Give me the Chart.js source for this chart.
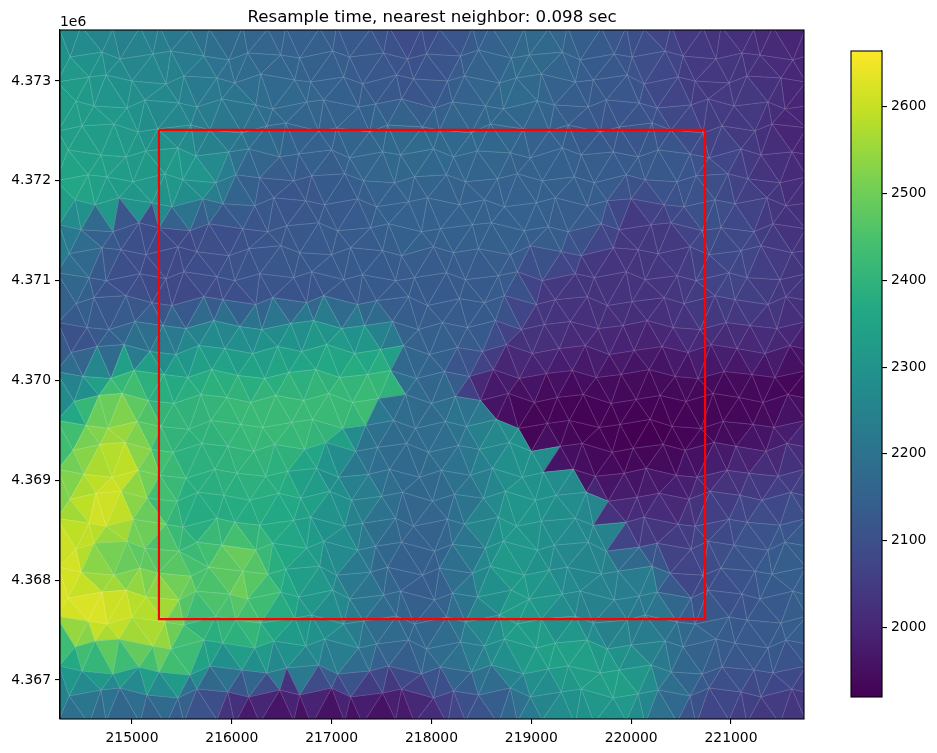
<!DOCTYPE html>
<html>
<head>
<meta charset="utf-8">
<title>Resample time</title>
<script src="https://cdn.jsdelivr.net/npm/chart.js@4"></script>
<style>
    body { margin: 0; background: #fff; }
    #meshChart { position: absolute; left: 0; top: 0; }
    #barChart { position: absolute; left: 840px; top: 0; }
</style>
</head>
<body>
<canvas id="meshChart" width="937" height="753"></canvas>
<canvas id="barChart" width="97" height="753"></canvas>
<script>
var titleText = "Resample time, nearest neighbor: 0.098 sec";
var offsetText = "1e6";
var xLimits = [214279, 221731];
var yLimits = [4366609, 4373511];
var xTicks = [215000, 216000, 217000, 218000, 219000, 220000, 221000];
var yTicks = [4367000, 4368000, 4369000, 4370000, 4371000, 4372000, 4373000];
var heightLimits = [1920, 2664];
var heightTicks = [2000, 2100, 2200, 2300, 2400, 2500, 2600];
var boxEast = [215270, 220740, 220740, 215270, 215270];
var boxNorth = [4372510, 4372510, 4367610, 4367610, 4372510];
var viridis = ["#440154", "#482475", "#414487", "#355f8d", "#2a788e", "#21918c", "#22a884", "#44bf70", "#7ad151", "#bddf26", "#fde725"];

// mesh nodes, row by row from the north edge, in tens of metres from 214000 / 4366000
var nodeEast = [
    [27,49,81,108,127,158,177,211,236,254,288,305,339,357,390,408,441,459,493,517,536,570,595,613,640,672,690,723,742,775],
    [38,70,88,121,139,172,197,216,249,268,301,318,352,376,395,429,447,480,498,531,549,583,601,634,652,685,711,729,762,788],
    [25,57,74,100,134,152,185,203,229,263,279,312,331,365,382,416,433,468,485,510,544,562,596,613,647,664,698,716,750,775],
    [44,62,95,113,147,165,190,224,241,275,292,327,344,370,403,421,454,472,506,523,557,575,608,626,660,677,703,737,754,789],
    [26,50,82,106,126,159,178,210,235,254,287,305,338,356,391,408,440,459,492,518,537,569,588,621,640,672,691,724,741,776],
    [36,69,94,114,146,164,197,217,248,267,300,318,351,369,402,422,446,479,499,531,550,582,607,627,659,678,710,730,761,784],
    [24,56,75,101,133,151,184,204,228,262,280,313,332,363,383,415,434,466,486,511,543,563,595,614,646,665,697,717,749,776],
    [43,63,87,120,140,171,191,223,242,274,293,326,345,377,396,428,453,473,505,524,556,576,600,633,653,684,704,736,755,787],
    [27,49,81,107,127,158,177,211,236,255,287,306,339,357,390,409,441,460,493,517,537,570,588,620,640,671,690,723,742,775],
    [37,70,89,114,146,165,197,217,249,268,300,319,351,370,402,422,447,479,499,530,550,582,607,627,659,678,710,730,761,785],
    [25,57,74,108,134,152,185,203,228,262,280,312,331,364,383,415,434,467,486,511,544,563,595,614,646,665,698,716,749,776],
    [44,62,94,120,140,172,191,224,241,275,292,326,345,377,396,428,453,473,505,524,556,576,601,633,653,684,704,737,755,788],
    [26,55,77,103,131,154,182,208,230,259,282,310,333,361,387,411,436,464,490,513,539,567,592,616,642,669,695,719,746,775],
    [39,65,92,118,144,167,193,221,246,270,295,323,349,372,398,426,451,475,501,528,554,578,603,631,657,680,706,734,759,786],
    [24,51,79,102,132,156,180,206,233,257,284,308,336,359,385,413,438,462,488,515,541,565,590,618,644,667,693,721,744,776],
    [42,67,90,116,142,169,195,219,244,272,297,321,347,374,400,424,449,477,503,526,552,580,605,629,655,682,708,732,757,787],
    [25,54,76,105,129,157,179,209,231,260,281,311,334,362,384,414,435,465,487,516,538,568,589,619,641,670,692,722,743,775],
    [41,68,93,119,141,170,196,222,243,273,294,324,346,375,397,427,448,478,500,529,551,581,602,632,654,683,705,735,756,788],
    [26,52,80,106,128,154,183,205,234,256,285,307,337,358,388,410,439,461,491,512,542,564,593,615,645,666,696,718,747,774],
    [38,64,89,115,145,166,192,218,247,269,298,320,350,371,401,423,452,474,504,525,555,577,606,628,658,679,709,731,760,785],
    [25,57,74,101,134,151,185,203,228,262,279,313,331,364,382,416,433,467,485,510,544,562,595,613,647,664,698,716,749,776],
    [44,62,95,113,147,165,190,224,241,275,292,326,344,370,403,421,454,472,506,523,557,575,608,626,660,677,703,737,754,789],
    [27,49,82,108,126,159,177,211,236,254,288,305,339,356,391,408,441,459,493,518,536,570,587,621,639,672,690,724,741,775],
    [36,70,94,114,147,164,198,216,249,267,301,318,352,369,403,421,446,480,498,531,549,583,608,626,660,677,711,729,762,784],
    [24,56,75,100,133,152,184,204,229,263,280,312,332,365,383,415,434,468,486,510,544,562,596,614,646,664,698,716,750,776],
    [43,63,87,121,139,172,191,223,242,274,293,327,345,377,395,429,453,473,505,524,556,576,600,634,652,685,704,737,755,787],
    [27,50,81,107,127,158,178,210,235,255,287,306,338,357,390,409,440,460,492,517,537,569,588,620,640,671,691,723,742,775],
    [37,69,88,115,146,165,196,217,248,268,300,319,351,370,402,422,447,479,499,530,550,582,607,627,659,678,710,730,761,785],
    [26,57,74,108,134,152,185,203,228,262,280,313,331,364,383,416,434,467,486,511,544,563,595,614,646,665,698,716,749,775]
];
var nodeNorth = [
    [753,755,752,754,756,752,753,755,752,754,753,756,752,755,753,752,754,756,753,752,755,753,754,752,756,753,755,752,754,753],
    [724,729,722,727,730,725,721,728,726,723,730,724,728,722,727,725,731,723,726,729,721,727,724,730,725,722,728,726,721,729],
    [699,704,706,700,697,705,703,698,707,701,699,704,697,706,702,700,705,698,703,707,699,701,706,697,704,700,698,705,703,699],
    [680,675,673,681,678,674,682,676,672,679,681,674,677,682,673,679,675,672,680,676,674,681,678,673,676,682,675,679,672,677],
    [650,655,657,649,652,656,651,648,655,658,650,653,649,656,654,651,648,657,652,650,656,649,654,658,651,648,655,650,657,653],
    [631,626,624,630,633,625,629,632,624,627,631,623,629,626,632,624,630,628,623,633,626,629,624,631,627,623,632,626,629,625],
    [600,606,604,599,607,601,598,606,603,600,605,607,600,598,604,606,599,602,607,600,604,598,606,601,599,605,607,602,598,604],
    [581,576,583,578,574,582,577,575,583,580,576,582,574,579,583,576,581,574,578,583,575,580,582,576,574,581,577,583,575,579],
    [556,551,549,558,553,550,557,552,549,555,558,550,553,557,549,552,556,558,550,554,549,557,551,556,558,550,553,549,557,552],
    [527,533,531,526,534,529,525,532,535,528,526,533,530,525,534,528,532,526,535,529,525,533,531,527,534,526,530,535,528,532],
    [508,503,500,507,502,509,504,500,507,503,509,501,506,500,503,508,501,505,509,500,507,503,509,501,505,500,508,503,501,507],
    [477,483,485,478,475,484,481,476,483,478,485,476,480,484,475,482,478,485,476,481,484,475,479,483,477,485,481,476,484,478],
    [458,453,451,459,455,452,460,454,451,457,460,452,455,459,451,458,453,460,451,456,459,452,455,460,453,451,458,455,452,459],
    [428,434,436,429,426,435,432,427,434,429,436,427,431,435,426,433,429,436,427,432,435,426,430,434,428,436,432,427,435,429],
    [409,404,402,410,406,403,411,405,402,408,411,403,406,410,402,409,404,411,402,407,410,403,406,411,404,402,409,406,403,410],
    [379,385,387,380,377,386,383,378,385,380,387,378,382,386,377,384,380,387,378,383,386,377,381,385,379,387,383,378,386,380],
    [360,355,352,359,354,351,360,356,353,358,361,352,355,360,352,359,354,361,352,357,360,353,356,361,354,352,359,356,353,360],
    [330,336,338,331,328,337,334,329,336,331,338,329,333,337,328,335,331,338,329,334,337,328,332,336,330,338,334,329,337,331],
    [311,306,303,310,305,302,311,307,304,309,312,303,306,311,303,310,305,312,303,308,311,304,307,312,305,303,310,307,304,311],
    [281,287,289,282,279,288,285,280,287,282,289,280,284,288,279,286,282,289,280,285,288,279,283,287,281,289,285,280,288,282],
    [262,257,254,261,256,253,262,258,255,260,263,254,257,262,254,261,256,263,254,259,262,255,258,263,256,254,261,258,255,262],
    [231,237,239,232,229,238,235,230,237,232,239,230,234,238,229,236,232,239,230,235,238,229,233,237,231,239,235,230,238,232],
    [213,208,205,212,207,204,213,209,206,211,214,205,208,213,205,212,207,214,205,210,213,206,209,214,207,205,212,209,206,213],
    [182,188,190,183,180,189,186,181,188,183,190,181,185,189,180,187,183,190,181,186,189,180,184,188,182,190,186,181,189,183],
    [164,159,156,163,158,155,164,160,157,162,165,156,159,164,156,163,158,165,156,161,164,157,160,165,158,156,163,160,157,164],
    [133,139,141,134,131,140,137,132,139,134,141,132,136,140,131,138,134,141,132,137,140,131,135,139,133,141,137,132,140,134],
    [114,109,106,113,108,105,114,110,107,112,115,106,109,114,106,113,108,115,106,111,114,107,110,115,108,106,113,110,107,114],
    [84,90,92,85,82,91,88,83,90,85,92,83,87,91,82,89,85,92,83,88,91,82,86,90,84,92,88,83,91,85],
    [58,56,59,57,55,58,60,56,57,59,55,58,56,60,57,55,59,56,58,60,55,57,59,56,58,55,60,57,56,59]
];
var nodeHeight = [
    [2260,2250,2240,2230,2220,2190,2170,2160,2150,2140,2140,2130,2120,2090,2080,2100,2130,2150,2170,2160,2150,2130,2110,2080,2050,2030,2020,2010,2000,1990],
    [2295,2275,2260,2250,2240,2210,2190,2170,2160,2150,2140,2130,2120,2100,2100,2120,2140,2160,2190,2170,2140,2120,2110,2090,2060,2040,2030,2020,2010,2000],
    [2335,2310,2290,2270,2260,2230,2200,2190,2170,2160,2150,2140,2130,2110,2110,2130,2150,2170,2190,2160,2140,2130,2120,2090,2060,2040,2040,2030,2010,1990],
    [2330,2315,2305,2280,2255,2240,2220,2200,2180,2170,2160,2140,2140,2120,2120,2140,2160,2170,2170,2150,2130,2120,2120,2090,2060,2050,2050,2040,2010,1990],
    [2330,2330,2320,2295,2270,2250,2220,2200,2180,2160,2150,2150,2160,2170,2170,2170,2170,2170,2160,2150,2130,2120,2110,2110,2100,2060,2050,2030,2000,1990],
    [2340,2335,2325,2310,2295,2280,2230,2190,2160,2150,2150,2160,2170,2180,2180,2170,2170,2160,2150,2150,2140,2130,2130,2130,2120,2090,2060,2040,2010,1990],
    [2360,2350,2335,2320,2325,2330,2300,2170,2130,2120,2130,2140,2150,2160,2160,2160,2150,2150,2150,2150,2140,2140,2130,2120,2120,2110,2070,2040,2020,2000],
    [2365,2335,2315,2295,2275,2240,2170,2130,2120,2110,2120,2130,2140,2150,2150,2150,2150,2150,2150,2140,2140,2130,2060,2090,2100,2110,2080,2050,2030,2020],
    [2270,2180,2120,2100,2090,2090,2100,2100,2120,2120,2130,2130,2140,2150,2150,2150,2150,2150,2150,2140,2130,2130,2040,2040,2050,2100,2100,2060,2030,2020],
    [2220,2150,2110,2090,2080,2090,2100,2110,2120,2120,2130,2130,2130,2140,2140,2140,2140,2140,2130,2140,2050,2040,2040,2040,2050,2070,2090,2070,2040,2030],
    [2190,2140,2100,2090,2080,2090,2100,2110,2120,2120,2120,2130,2130,2130,2130,2130,2130,2130,2130,2040,2040,2030,2030,2030,2040,2060,2080,2060,2040,2030],
    [2170,2130,2110,2090,2080,2080,2090,2100,2110,2110,2120,2120,2130,2130,2130,2130,2130,2140,2040,2040,2030,2030,2030,2030,2040,2060,2070,2050,2040,2030],
    [2100,2120,2130,2160,2180,2220,2230,2250,2260,2260,2280,2290,2250,2150,2140,2140,2130,2130,2040,2030,2020,2010,2010,2010,2020,2030,2030,2020,2020,2000],
    [2090,2130,2180,2230,2270,2290,2300,2310,2320,2320,2330,2340,2340,2170,2150,2140,2130,2020,2020,2010,2000,1990,1980,1980,1990,2000,2000,2000,1990,1960],
    [2200,2260,2340,2420,2350,2360,2370,2370,2370,2370,2380,2390,2400,2400,2170,2150,2060,2000,1980,1970,1960,1950,1950,1950,1950,1950,1950,1950,1940,1930],
    [2290,2470,2480,2400,2400,2400,2410,2420,2420,2420,2420,2430,2430,2190,2170,2200,1960,1950,1930,1930,1930,1930,1930,1930,1930,1930,1930,1930,1930,1940],
    [2330,2480,2530,2550,2420,2400,2410,2420,2420,2420,2420,2410,2220,2180,2180,2190,2220,2280,1930,1930,1920,1920,1920,1920,1920,1930,1930,1940,1960,1980],
    [2490,2560,2570,2440,2390,2390,2400,2410,2410,2410,2390,2210,2190,2170,2180,2190,2230,2290,2300,1950,1930,1930,1920,1920,1930,1940,1960,1980,2000,2010],
    [2480,2540,2610,2590,2480,2390,2390,2400,2390,2370,2280,2240,2200,2170,2170,2190,2220,2270,2300,2280,1960,1950,1940,1950,1960,1990,2010,2030,2040,2040],
    [2550,2620,2590,2440,2390,2380,2380,2380,2380,2370,2330,2280,2220,2170,2160,2180,2220,2290,2310,2290,2270,2000,1990,1990,2000,2030,2050,2060,2070,2070],
    [2530,2600,2620,2570,2460,2370,2370,2370,2370,2350,2310,2260,2210,2170,2150,2170,2220,2300,2310,2290,2270,2260,2030,2020,2030,2060,2080,2100,2110,2110],
    [2640,2540,2490,2460,2440,2410,2480,2470,2390,2340,2320,2260,2190,2160,2140,2170,2240,2310,2300,2280,2260,2250,2070,2060,2060,2080,2100,2120,2130,2140],
    [2650,2560,2500,2480,2500,2470,2420,2520,2400,2360,2300,2230,2180,2150,2130,2160,2240,2320,2310,2270,2260,2250,2230,2220,2070,2080,2110,2130,2140,2150],
    [2640,2600,2580,2570,2540,2450,2480,2490,2400,2340,2300,2250,2190,2150,2130,2160,2230,2320,2340,2290,2260,2240,2230,2230,2080,2090,2100,2120,2130,2150],
    [2580,2630,2640,2600,2570,2400,2430,2430,2400,2330,2290,2250,2190,2170,2150,2170,2230,2300,2340,2290,2250,2230,2220,2210,2190,2160,2120,2120,2130,2150],
    [2430,2530,2540,2540,2530,2380,2350,2400,2340,2300,2290,2240,2190,2170,2170,2210,2260,2300,2340,2350,2320,2280,2260,2210,2170,2150,2130,2130,2130,2140],
    [2340,2340,2360,2380,2400,2370,2280,2240,2220,2240,2220,2170,2140,2120,2130,2170,2210,2260,2310,2330,2340,2350,2340,2260,2190,2140,2120,2110,2110,2090],
    [2240,2230,2220,2210,2200,2160,2080,2040,2030,2020,2030,2020,2000,2010,2040,2090,2120,2170,2220,2280,2310,2330,2330,2240,2140,2100,2080,2060,2060,2040],
    [2170,2160,2150,2130,2120,2100,2060,1950,1930,1930,1920,1920,1920,1950,1960,2040,2090,2130,2190,2260,2290,2290,2280,2220,2130,2070,2050,2040,2030,2020]
];

var fontName = "'DejaVu Sans'";
var cliffHeight = 200;
var nodes = [];
nodeEast.forEach(function (row, j) {
    row.forEach(function (u, k) {
        nodes.push({ x: 214000 + u * 10, y: 4366000 + nodeNorth[j][k] * 10, z: nodeHeight[j][k] });
    });
});

// Bowyer-Watson, returns triples of node indexes
function triangulate(pts) {
    var n = pts.length;
    var all = pts.concat([
        { x: 200000, y: 4350000 }, { x: 240000, y: 4350000 }, { x: 220000, y: 4400000 }
    ]);
    function circle(a, b, c) {
        var ax = all[a].x - all[c].x, ay = all[a].y - all[c].y;
        var bx = all[b].x - all[c].x, by = all[b].y - all[c].y;
        var d = 2 * (ax * by - ay * bx);
        var a2 = ax * ax + ay * ay, b2 = bx * bx + by * by;
        var ux = (by * a2 - ay * b2) / d, uy = (ax * b2 - bx * a2) / d;
        return { a: a, b: b, c: c, x: ux + all[c].x, y: uy + all[c].y, r: ux * ux + uy * uy };
    }
    var tris = [circle(n, n + 1, n + 2)];
    for (var i = 0; i < n; i++) {
        var edges = {}, keep = [];
        tris.forEach(function (t) {
            var dx = all[i].x - t.x, dy = all[i].y - t.y;
            if (dx * dx + dy * dy < t.r) {
                [[t.a, t.b], [t.b, t.c], [t.c, t.a]].forEach(function (e) {
                    var key = Math.min(e[0], e[1]) + "_" + Math.max(e[0], e[1]);
                    edges[key] = edges[key] ? null : e;
                });
            } else {
                keep.push(t);
            }
        });
        Object.keys(edges).forEach(function (key) {
            if (edges[key]) keep.push(circle(edges[key][0], edges[key][1], i));
        });
        tris = keep;
    }
    return tris.filter(function (t) {
        return t.a < n && t.b < n && t.c < n;
    });
}
var triangles = triangulate(nodes);

function hexToRgb(hex) {
    return [1, 3, 5].map(function (p) { return parseInt(hex.substr(p, 2), 16); });
}
function heightColor(z) {
    var t = (z - heightLimits[0]) / (heightLimits[1] - heightLimits[0]);
    t = Math.max(0, Math.min(1, t)) * (viridis.length - 1);
    var i = Math.min(Math.floor(t), viridis.length - 2);
    var a = hexToRgb(viridis[i]), b = hexToRgb(viridis[i + 1]), f = t - i;
    return "rgb(" + [0, 1, 2].map(function (c) {
        return Math.round(a[c] + (b[c] - a[c]) * f);
    }).join(",") + ")";
}

// mean of the corners, except across a cliff where the middle corner keeps the edge crisp
function faceHeight(t) {
    var z = [nodes[t.a].z, nodes[t.b].z, nodes[t.c].z].sort(function (p, q) { return p - q; });
    if (z[2] - z[0] > cliffHeight) return z[1];
    return (z[0] + z[1] + z[2]) / 3;
}

var meshPlugin = {
    id: "mesh",
    beforeDatasetsDraw: function (chart) {
        var ctx = chart.ctx, area = chart.chartArea;
        var sx = chart.scales.x, sy = chart.scales.y;
        var px = function (i) { return sx.getPixelForValue(nodes[i].x); };
        var py = function (i) { return sy.getPixelForValue(nodes[i].y); };
        ctx.save();
        ctx.beginPath();
        ctx.rect(area.left, area.top, area.width, area.height);
        ctx.clip();
        triangles.forEach(function (t) {
            ctx.beginPath();
            ctx.moveTo(px(t.a), py(t.a));
            ctx.lineTo(px(t.b), py(t.b));
            ctx.lineTo(px(t.c), py(t.c));
            ctx.closePath();
            ctx.fillStyle = ctx.strokeStyle = heightColor(faceHeight(t));
            ctx.lineWidth = 0.6;
            ctx.fill();
            ctx.stroke();
        });
        var seen = {};
        ctx.strokeStyle = "rgba(255,255,255,0.28)";
        ctx.lineWidth = 0.55;
        ctx.beginPath();
        triangles.forEach(function (t) {
            [[t.a, t.b], [t.b, t.c], [t.c, t.a]].forEach(function (e) {
                var key = Math.min(e[0], e[1]) + "_" + Math.max(e[0], e[1]);
                if (seen[key]) return;
                seen[key] = true;
                ctx.moveTo(px(e[0]), py(e[0]));
                ctx.lineTo(px(e[1]), py(e[1]));
            });
        });
        ctx.stroke();
        ctx.restore();
    }
};

var framePlugin = {
    id: "frame",
    afterDraw: function (chart) {
        var ctx = chart.ctx, area = chart.chartArea;
        ctx.save();
        ctx.strokeStyle = "#000";
        ctx.lineWidth = 1.1;
        ctx.strokeRect(area.left, area.top, area.width, area.height);
        if (chart.canvas.id === "meshChart") {
            ctx.fillStyle = "#000";
            ctx.textBaseline = "alphabetic";
            ctx.font = "13.9px " + fontName;
            ctx.textAlign = "left";
            ctx.fillText(offsetText, area.left, area.top - 4);
            ctx.font = "16.67px " + fontName;
            ctx.textAlign = "center";
            ctx.fillText(titleText, (area.left + area.right) / 2, area.top - 8);
        }
        ctx.restore();
    }
};

function axisOptions(limits, ticks, label) {
    return {
        type: "linear",
        min: limits[0],
        max: limits[1],
        afterBuildTicks: function (axis) {
            axis.ticks = ticks.map(function (v) { return { value: v }; });
        },
        grid: { display: true, drawOnChartArea: false, drawTicks: true, tickLength: 5, color: "#000", lineWidth: 1.1 },
        border: { display: true, color: "#000", width: 1.1 },
        ticks: {
            color: "#000",
            padding: 4,
            autoSkip: false,
            maxRotation: 0,
            font: { family: fontName, size: 13.9 },
            callback: label
        }
    };
}

var xAxis = axisOptions(xLimits, xTicks, function (v) { return String(v); });
xAxis.ticks.padding = 6;
xAxis.afterFit = function (axis) { axis.height = 34; };
var yAxis = axisOptions(yLimits, yTicks, function (v) { return (v / 1e6).toFixed(3); });
yAxis.afterFit = function (axis) { axis.width = 60; };

new Chart(document.getElementById("meshChart"), {
    type: "scatter",
    data: {
        datasets: [
            { label: "nodes", data: nodes, pointRadius: 0, showLine: false },
            {
                label: "box",
                data: boxEast.map(function (x, i) { return { x: x, y: boxNorth[i] }; }),
                showLine: true,
                borderColor: "#ff0000",
                borderWidth: 2.2,
                pointRadius: 0,
                tension: 0
            }
        ]
    },
    options: {
        responsive: false,
        animation: false,
        layout: { padding: { left: 0, top: 30, right: 133, bottom: 0 } },
        plugins: {
            legend: { display: false },
            tooltip: { enabled: false }
        },
        scales: { x: xAxis, y: yAxis }
    },
    plugins: [meshPlugin, framePlugin]
});

var barAxis = axisOptions(heightLimits, heightTicks, function (v) { return String(v); });
barAxis.position = "right";
barAxis.afterFit = function (axis) { axis.width = 55; };

new Chart(document.getElementById("barChart"), {
    type: "bar",
    data: {
        labels: ["height"],
        datasets: [{
            data: [heightLimits],
            barPercentage: 1,
            categoryPercentage: 1,
            backgroundColor: function (context) {
                var area = context.chart.chartArea;
                if (!area) return viridis[5];
                var gradient = context.chart.ctx.createLinearGradient(0, area.bottom, 0, area.top);
                viridis.forEach(function (c, i) {
                    gradient.addColorStop(i / (viridis.length - 1), c);
                });
                return gradient;
            }
        }]
    },
    options: {
        responsive: false,
        animation: false,
        layout: { padding: { left: 11, top: 51, right: 0, bottom: 56 } },
        plugins: { legend: { display: false }, tooltip: { enabled: false } },
        scales: { x: { display: false }, y: barAxis }
    },
    plugins: [framePlugin]
});
</script>
</body>
</html>
